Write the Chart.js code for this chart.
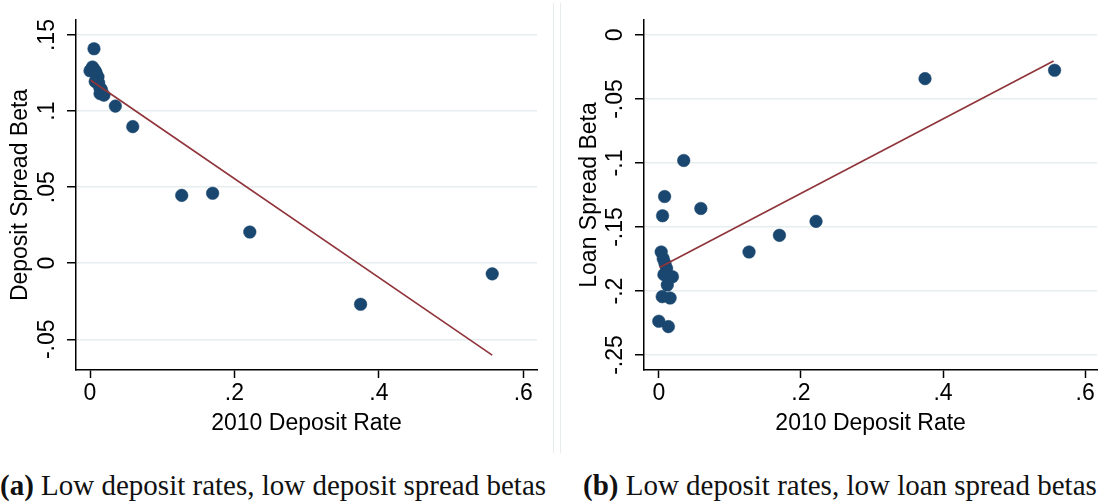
<!DOCTYPE html>
<html>
<head>
<meta charset="utf-8">
<script src="https://cdn.jsdelivr.net/npm/chart.js@4.4.1/dist/chart.umd.min.js"></script>
<style>
  body { margin: 0; background: #fff; width: 1104px; height: 504px; overflow: hidden; position: relative; }
  canvas { position: absolute; top: 0; }
  #chartA { left: 0; }
  #chartB { left: 560px; }
  .frame { position: absolute; top: 3px; width: 1px; height: 450px; background: #e6ecec; }
  .caption { position: absolute; top: 471px; font-family: "Liberation Serif", serif; font-size: 29px; line-height: 29px; color: #111; white-space: nowrap; }
</style>
</head>
<body>
<canvas id="chartA" width="553" height="460"></canvas>
<canvas id="chartB" width="544" height="460"></canvas>
<div class="frame" style="left:553px"></div>
<div class="frame" style="left:560px"></div>
<div class="caption" style="left:0px"><b>(a)</b> Low deposit rates, low deposit spread betas</div>
<div class="caption" style="left:583px"><b>(b)</b> Low deposit rates, low loan spread betas</div>

<script>
// 2010 deposit rate per bank, with the two betas
const depRateA = [0.0055, 0.0, 0.0034, 0.0048, 0.0063, 0.0082, 0.0087, 0.011, 0.0072, 0.012, 0.0135, 0.0159, 0.0139, 0.0192, 0.0351, 0.0592, 0.127, 0.1698, 0.2213, 0.3747, 0.557];
const depBeta  = [0.141, 0.1265, 0.129, 0.1275, 0.127, 0.1255, 0.124, 0.1225, 0.1195, 0.1185, 0.1155, 0.114, 0.1115, 0.1105, 0.1033, 0.0898, 0.0446, 0.046, 0.0205, -0.027, -0.007];

const depRateB = [0.3747, 0.557, 0.0351, 0.0082, 0.0053, 0.0592, 0.2213, 0.1698, 0.127, 0.0034, 0.0063, 0.0087, 0.011, 0.0072, 0.0192, 0.012, 0.0048, 0.0159, 0.0, 0.0135];
const loanBeta = [-0.0341, -0.0276, -0.098, -0.1262, -0.1412, -0.1355, -0.1456, -0.1565, -0.1695, -0.1695, -0.1748, -0.1784, -0.1823, -0.1872, -0.1888, -0.1953, -0.2044, -0.2055, -0.2236, -0.2278];

// fitted lines (end points)
const fitXA = [0.001, 0.557];
const fitYA = [0.1203, -0.0604];
const fitXB = [0.001, 0.5556];
const fitYB = [-0.1817, -0.0203];

const xTicks = [0, 0.2, 0.4, 0.6];
const xLabels = ['0', '.2', '.4', '.6'];
const yTicksA = [-0.05, 0, 0.05, 0.1, 0.15];
const yLabelsA = ['-.05', '0', '.05', '.1', '.15'];
const yTicksB = [-0.25, -0.2, -0.15, -0.1, -0.05, 0];
const yLabelsB = ['-.25', '-.2', '-.15', '-.1', '-.05', '0'];

const navy = '#1a476f';
const maroon = '#90353b';
const gridColor = 'rgb(230,238,240)';
const font = { family: 'Liberation Sans, Arial, sans-serif', size: 23 };

function makeChart(id, xs, ys, fx, fy, yTicks, yLabels, yRange, xRange, yTitle, opts) {
    const ctx = document.getElementById(id).getContext('2d');
    return new Chart(ctx, {
        data: {
            datasets: [
                {
                    type: 'line',
                    data: fx.map((x, i) => ({ x: x, y: fy[i] })),
                    borderColor: maroon,
                    borderWidth: 1.7,
                    pointRadius: 0,
                    order: 0
                },
                {
                    type: 'scatter',
                    data: xs.map((x, i) => ({ x: x, y: ys[i] })),
                    backgroundColor: navy,
                    borderColor: navy,
                    borderWidth: 0.5,
                    pointRadius: 6.3,
                    order: 1
                }
            ]
        },
        options: {
            responsive: false,
            animation: false,
            devicePixelRatio: 1,
            layout: { padding: { left: 0, top: 20, right: opts.padRight, bottom: 0 } },
            plugins: { legend: { display: false }, tooltip: { enabled: false } },
            scales: {
                x: {
                    type: 'linear',
                    min: xRange[0], max: xRange[1],
                    afterBuildTicks: (s) => { s.ticks = xTicks.map(v => ({ value: v })); },
                    afterFit: (s) => { s.height = 90; },
                    ticks: { autoSkip: false, maxRotation: 0, padding: 2, color: '#000', font: font,
                             callback: (v, i) => xLabels[i] },
                    grid: { drawOnChartArea: false, tickColor: '#000', tickLength: 8, tickWidth: 1.5 },
                    border: { color: '#000', width: 1.5 },
                    title: { display: true, text: '2010 Deposit Rate', color: '#000', font: font,
                             padding: { top: 0, bottom: 22.5 } }
                },
                y: {
                    type: 'linear',
                    min: yRange[0], max: yRange[1],
                    afterBuildTicks: (s) => { s.ticks = yTicks.map(v => ({ value: v })); },
                    afterFit: (s) => { s.width = opts.yWidth; },
                    ticks: { autoSkip: false, minRotation: 90, maxRotation: 90, crossAlign: 'center',
                             padding: 0, color: '#000', font: font,
                             callback: (v, i) => yLabels[i] },
                    grid: { color: gridColor, lineWidth: 1.5, tickColor: '#000', tickLength: 9, tickWidth: 1.5 },
                    border: { color: '#000', width: 1.5 },
                    title: { display: true, text: yTitle, color: '#000', font: font,
                             padding: { top: opts.titlePad, bottom: 0 } }
                }
            }
        }
    });
}

document.addEventListener('DOMContentLoaded', () => {
    makeChart('chartA', depRateA, depBeta, fitXA, fitYA, yTicksA, yLabelsA,
        [-0.0702, 0.1599], [-0.0194, 0.619], 'Deposit Spread Beta',
        { padRight: 16, yWidth: 76, titlePad: 6.5 });
    makeChart('chartB', depRateB, loanBeta, fitXB, fitYB, yTicksB, yLabelsB,
        [-0.2617, 0.0117], [-0.0208, 0.617], 'Loan Spread Beta',
        { padRight: 0, yWidth: 84, titlePad: 15.5 });
});
</script>
</body>
</html>
